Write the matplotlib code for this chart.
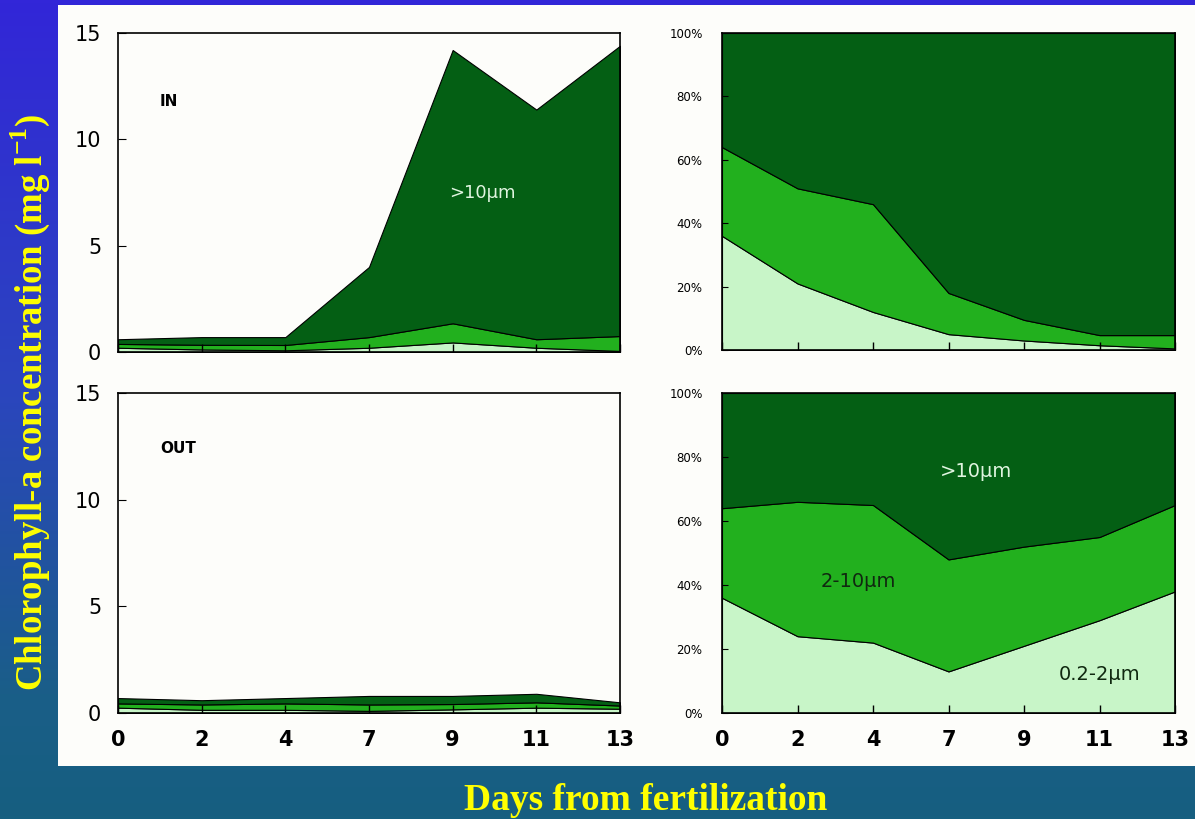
import numpy as np
import matplotlib.pyplot as plt
from matplotlib.colors import LinearSegmentedColormap
from matplotlib.patches import Rectangle

# Sampling days (plotted as evenly spaced categories)
days = ['0', '2', '4', '7', '9', '11', '13']

# Absolute chlorophyll-a (mg l-1) per size fraction
in_small = [0.20, 0.12, 0.08, 0.20, 0.45, 0.20, 0.05]
in_mid = [0.18, 0.22, 0.25, 0.50, 0.90, 0.40, 0.70]
in_large = [0.22, 0.36, 0.37, 3.30, 12.85, 10.80, 13.65]

out_small = [0.25, 0.15, 0.15, 0.10, 0.17, 0.25, 0.20]
out_mid = [0.20, 0.25, 0.30, 0.30, 0.25, 0.25, 0.15]
out_large = [0.25, 0.20, 0.25, 0.40, 0.38, 0.40, 0.15]

# Relative contribution (%) per size fraction
in_small_pct = [36, 21, 12, 5, 3, 1.5, 0.5]
in_mid_pct = [28, 30, 34, 13, 6.5, 3.2, 4.2]
in_large_pct = [36, 49, 54, 82, 90.5, 95.3, 95.3]

out_small_pct = [36, 24, 22, 13, 21, 29, 38]
out_mid_pct = [28, 42, 43, 35, 31, 26, 27]
out_large_pct = [36, 34, 35, 52, 48, 45, 35]

colors = ['#c8f5c8', '#22b01e', '#045f14']  # 0.2-2, 2-10, >10 um

plt.rcParams['mathtext.fontset'] = 'custom'
plt.rcParams['mathtext.rm'] = 'Liberation Serif:bold'

W, H = 1195, 819
fig = plt.figure(figsize=(W / 100, H / 100), dpi=100)

# gradient background
bg = fig.add_axes([0, 0, 1, 1], zorder=-10)
cmap = LinearSegmentedColormap.from_list('bg', [(0, '#3226d8'), (0.47, '#2b45bf'),
                                               (0.85, '#1a5e88'), (1, '#165f80')])
bg.imshow(np.linspace(0, 1, 256).reshape(-1, 1), aspect='auto', cmap=cmap,
          extent=[0, 1, 0, 1], origin='upper')
bg.add_patch(Rectangle((58 / W, 1 - 766 / H), 1 - 58 / W, (766 - 5) / H,
                       facecolor='#fdfdfa', edgecolor='none'))
bg.set_xlim(0, 1)
bg.set_ylim(0, 1)
bg.axis('off')

x = np.arange(len(days))


def px_axes(x0, x1, y0, y1):
    return fig.add_axes([x0 / W, 1 - y1 / H, (x1 - x0) / W, (y1 - y0) / H])


def style(ax, show_x):
    ax.set_facecolor('#fdfdfa')
    ax.set_xlim(0, len(days) - 1)
    ax.set_xticks(x)
    if show_x:
        ax.set_xticklabels(days, fontsize=15, fontweight='bold')
    else:
        ax.set_xticklabels([])
    ax.tick_params(axis='x', direction='in', length=6, pad=12, width=1)
    for s in ax.spines.values():
        s.set_linewidth(1.2)


abs_sets = [(in_small, in_mid, in_large, 'IN', 33, 352, 11.8),
            (out_small, out_mid, out_large, 'OUT', 393, 713, 12.4)]
for i, (sm, md, lg, name, y0, y1, ny) in enumerate(abs_sets):
    ax = px_axes(118, 620, y0, y1)
    ax.stackplot(x, sm, md, lg, colors=colors, edgecolor='black', linewidth=0.8)
    ax.set_ylim(0, 15)
    ax.set_yticks([0, 5, 10, 15])
    ax.set_yticklabels(['0', '5', '10', '15'], fontsize=15)
    ax.tick_params(axis='y', direction='in', length=6, pad=12)
    style(ax, i == 1)
    ax.text(0.5, ny, name, fontsize=11, fontweight='bold', ha='left', va='center')
    if i == 0:
        ax.text(4.35, 7.5, '>10µm', fontsize=13, color='#e0f5e0', ha='center', va='center')

pct_sets = [(in_small_pct, in_mid_pct, in_large_pct, 33, 350),
            (out_small_pct, out_mid_pct, out_large_pct, 393, 713)]
for i, (sm, md, lg, y0, y1) in enumerate(pct_sets):
    ax = px_axes(722, 1175, y0, y1)
    ax.stackplot(x, sm, md, lg, colors=colors, edgecolor='black', linewidth=0.8)
    ax.set_ylim(0, 100)
    ax.set_yticks(np.arange(0, 101, 20))
    ax.set_yticklabels([f'{v}%' for v in range(0, 101, 20)], fontsize=8.5)
    ax.tick_params(axis='y', direction='in', length=4, pad=14)
    style(ax, i == 1)
    if i == 1:
        ax.text(3.36, 75.5, '>10µm', fontsize=14, color='#e0f5e0', ha='center', va='center')
        ax.text(1.8, 41, '2-10µm', fontsize=14, color='#102810', ha='center', va='center')
        ax.text(5.0, 12, '0.2-2µm', fontsize=14, color='#102810', ha='center', va='center')

fig.text(30 / W, 1 - 402 / H, r'Chlorophyll-a concentration (mg l$^{-1}$)', rotation=90,
         ha='center', va='center', fontsize=26.5, fontweight='bold', color='#ffff00',
         family='Liberation Serif')
fig.text(646 / W, 1 - 800 / H, 'Days from fertilization', ha='center', va='center',
         fontsize=27, fontweight='bold', color='#ffff00', family='Liberation Serif')

plt.savefig('out.png', dpi=100)
